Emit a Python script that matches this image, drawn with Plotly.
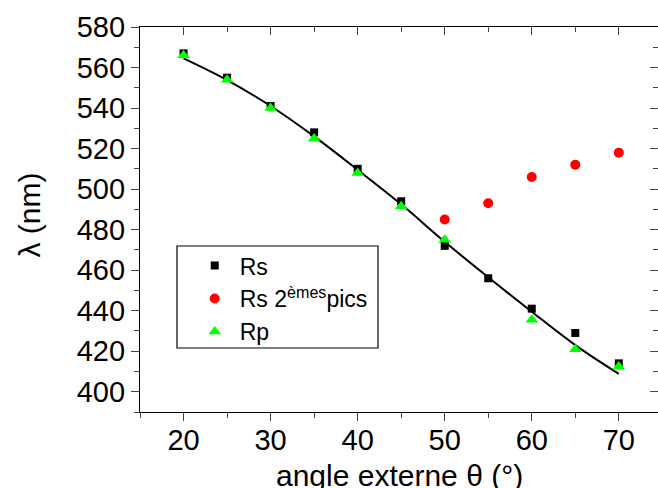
import plotly.graph_objects as go

# ---- data ----
angles = [20, 25, 30, 35, 40, 45, 50, 55, 60, 65, 70]
rs = [567, 555, 541, 528, 510, 494, 472, 456, 441, 429, 414]
angles_2 = [50, 55, 60, 65, 70]
rs_2nd = [485, 493, 506, 512, 518]
rp = [566, 554, 540, 525, 508, 491.5, 475, None, 435.5, 421, 412.5]
fit = [564.5, 553.8, 541, 526, 509.5, 492.5, 474, 456.5, 439.5, 423, 408.8]

x_ticks = [20, 30, 40, 50, 60, 70]
y_ticks = [400, 420, 440, 460, 480, 500, 520, 540, 560, 580]

x_title = "angle externe θ (°)"
y_title = "λ (nm)"

FONT = "Arial, 'Liberation Sans', sans-serif"

fig = go.Figure()
fig.add_trace(go.Scatter(x=angles, y=fit, mode="lines", line=dict(color="black", width=2, shape="spline"),
                         showlegend=False, hoverinfo="skip"))
fig.add_trace(go.Scatter(x=angles, y=rs, mode="markers", name="Rs",
                         marker=dict(symbol="square", size=8, color="black")))
fig.add_trace(go.Scatter(x=angles_2, y=rs_2nd, mode="markers", name="Rs 2<sup>èmes</sup>pics",
                         marker=dict(symbol="circle", size=10, color="#ff0000")))
fig.add_trace(go.Scatter(x=angles, y=rp, mode="markers", name="Rp",
                         marker=dict(symbol="triangle-up", size=11, color="#00ff00")))
# dummy trace so that the mirrored (inside-tick) axes are drawn
fig.add_trace(go.Scatter(x=[None], y=[None], xaxis="x2", yaxis="y2", showlegend=False, hoverinfo="skip"))

xr = [15, 74.5]
yr = [390, 580]

fig.update_layout(
    width=658, height=488,
    margin=dict(l=140, r=0, t=27, b=76, autoexpand=False),
    paper_bgcolor="white", plot_bgcolor="white",
    font=dict(family=FONT, color="black"),
    showlegend=True,
    legend=dict(x=0.096, y=0.436, xanchor="left", yanchor="top",
                bgcolor="rgba(0,0,0,0)", borderwidth=0, itemwidth=40,
                font=dict(size=23, family=FONT), tracegroupgap=0, itemsizing="trace"),
    xaxis=dict(range=xr, tickvals=x_ticks, ticks="outside", ticklen=8, tickwidth=1.3,
               showline=True, linecolor="black", linewidth=1.3, showgrid=False, zeroline=False,
               tickfont=dict(size=29), automargin=False, ticklabelstandoff=-6,
               minor=dict(dtick=5, tick0=0, ticks="outside", ticklen=5, tickwidth=1.3, showgrid=False)),
    yaxis=dict(range=yr, tickvals=y_ticks, ticks="outside", ticklen=8, tickwidth=1.3,
               showline=True, linecolor="black", linewidth=1.3, showgrid=False, zeroline=False,
               tickfont=dict(size=29), automargin=False,
               minor=dict(dtick=10, tick0=0, ticks="outside", ticklen=5, tickwidth=1.3, showgrid=False)),
    xaxis2=dict(range=xr, overlaying="x", side="top", anchor="y", tickvals=x_ticks, ticks="inside",
                ticklen=8, tickwidth=1.3, showticklabels=False, showline=True, linecolor="black",
                linewidth=1.3, showgrid=False, zeroline=False, automargin=False,
                minor=dict(dtick=5, tick0=0, ticks="inside", ticklen=5, tickwidth=1.3, showgrid=False)),
    yaxis2=dict(range=yr, overlaying="y", side="right", anchor="x", tickvals=y_ticks, ticks="inside",
                ticklen=8, tickwidth=1.3, showticklabels=False, showline=False,
                showgrid=False, zeroline=False, automargin=False,
                minor=dict(dtick=10, tick0=0, ticks="inside", ticklen=5, tickwidth=1.3, showgrid=False)),
)

# axis titles
fig.add_annotation(text=x_title, xref="paper", yref="paper", x=0.5, y=-0.166,
                   xanchor="center", yanchor="middle", showarrow=False, font=dict(size=30))
fig.add_annotation(text=y_title, xref="paper", yref="paper", x=-0.213, y=0.512, textangle=-90,
                   xanchor="center", yanchor="middle", showarrow=False, font=dict(size=30))

# legend frame
fig.add_shape(type="rect", xref="paper", yref="paper",
              x0=(177 - 140) / 518, x1=(378 - 140) / 518,
              y0=(412 - 348) / 385, y1=(412 - 246) / 385,
              line=dict(color="black", width=1.2), fillcolor="rgba(0,0,0,0)", layer="above")

fig.write_html("out.html", config={"displayModeBar": False},
               post_script="document.body.style.margin='0px';document.body.style.overflow='hidden';")
